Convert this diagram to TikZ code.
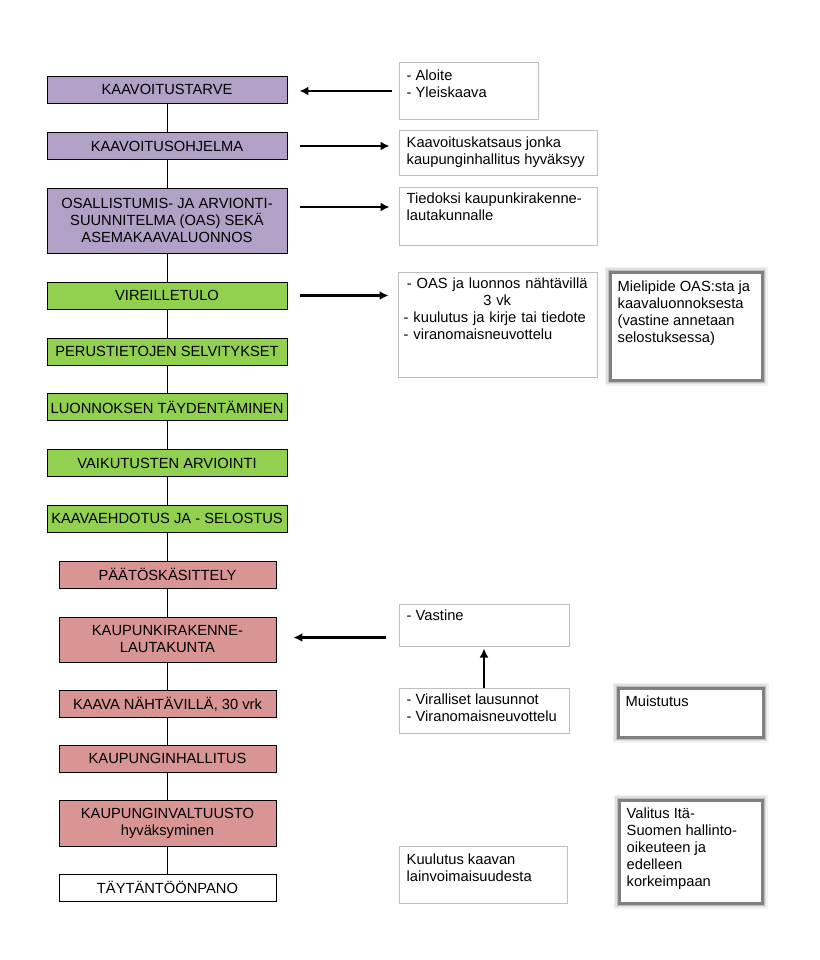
\documentclass[tikz,border=0pt]{standalone}
\usepackage{fontspec}
\setmainfont{Liberation Sans}
\usetikzlibrary{arrows.meta}
\definecolor{purp}{RGB}{178,161,199}
\definecolor{grn}{RGB}{146,208,80}
\definecolor{rd}{RGB}{217,149,148}
\definecolor{lgray}{RGB}{191,191,191}
\begin{document}
\begin{tikzpicture}[x=1pt,y=-1pt,
  font=\fontsize{14.7}{17}\selectfont,
  stage/.style={draw=black, line width=0.9pt, inner sep=0pt, align=center, minimum height=27pt},
  wide/.style={stage, minimum width=240pt},
  narrow/.style={stage, minimum width=217pt},
  infobox/.style={draw=lgray, line width=1pt, fill=white, inner sep=0pt},
  glowbox/.style={fill=white, inner sep=0pt, draw=black!50, line width=3pt,
     preaction={draw=black!5, line width=11pt},
     preaction={draw=black!12, line width=8pt},
     preaction={draw=black!25, line width=5pt}},
  infotext/.style={anchor=north west, inner sep=0pt, align=left},
  conn/.style={draw=black, line width=0.9pt},
  arr/.style={line width=2.2pt, -{Latex[length=9pt,width=9pt]}}
]
\useasboundingbox[fill=white] (0,0) rectangle (819,960);

% main column
\node[wide, fill=purp] (b1) at (167,89.5) {KAAVOITUSTARVE};
\node[wide, fill=purp] (b2) at (167,146) {KAAVOITUSOHJELMA};
\node[wide, fill=purp, minimum height=65pt] (b3) at (167,220.5) {OSALLISTUMIS- JA ARVIONTI-\\SUUNNITELMA (OAS) SEKÄ\\ASEMAKAAVALUONNOS};
\node[wide, fill=grn] (b4) at (167,295.5) {VIREILLETULO};
\node[wide, fill=grn] (b5) at (167,351.5) {PERUSTIETOJEN SELVITYKSET};
\node[wide, fill=grn] (b6) at (167,407) {LUONNOKSEN TÄYDENTÄMINEN};
\node[wide, fill=grn] (b7) at (167,463) {VAIKUTUSTEN ARVIOINTI};
\node[wide, fill=grn] (b8) at (167,518.5) {KAAVAEHDOTUS JA - SELOSTUS};
\node[narrow, fill=rd] (b9) at (167.5,574.5) {PÄÄTÖSKÄSITTELY};
\node[narrow, fill=rd, minimum height=45pt] (b10) at (167.5,639.5) {KAUPUNKIRAKENNE-\\LAUTAKUNTA};
\node[narrow, fill=rd] (b11) at (167.5,704) {KAAVA NÄHTÄVILLÄ, 30 vrk};
\node[narrow, fill=rd] (b12) at (167.5,758.5) {KAUPUNGINHALLITUS};
\node[narrow, fill=rd, minimum height=46pt] (b13) at (167.5,823) {KAUPUNGINVALTUUSTO\\hyväksyminen};
\node[narrow, fill=white] (b14) at (167.5,887.5) {TÄYTÄNTÖÖNPANO};

\foreach \a/\b in {b1/b2,b2/b3,b3/b4,b4/b5,b5/b6,b6/b7,b7/b8,b8/b9,b9/b10,b10/b11,b11/b12,b12/b13,b13/b14}
  \draw[conn] (\a.south) -- (\a.south |- \b.north);

% side boxes
\node[infobox, minimum width=139pt, minimum height=57pt] (r1) at (468.5,91.5) {};
\node[infotext] (t1) at ([shift={(8pt,-7pt)}]r1.north west) {- Aloite\\- Yleiskaava};

\node[infobox, minimum width=198pt, minimum height=45pt] (r2) at (498,153.5) {};
\node[infotext] (t2) at ([shift={(8pt,-6pt)}]r2.north west) {Kaavoituskatsaus jonka\\kaupunginhallitus hyväksyy};

\node[infobox, minimum width=198pt, minimum height=58pt] (r3) at (498,216) {};
\node[infotext] (t3) at ([shift={(8pt,-6pt)}]r3.north west) {Tiedoksi kaupunkirakenne-\\lautakunnalle};

\node[infobox, minimum width=199pt, minimum height=105pt] (r4) at (497.5,324.5) {};
\node[infotext, text width=187pt] (t4) at ([shift={(6pt,-6pt)}]r4.north west)
  {{\centering - OAS ja luonnos nähtävillä\\3 vk\par}- kuulutus ja kirje tai tiedote\\- viranomaisneuvottelu};

\node[glowbox, minimum width=152pt, minimum height=108pt] (r5) at (686,326) {};
\node[infotext] (t5) at ([shift={(9pt,-10pt)}]r5.north west) {Mielipide OAS:sta ja\\kaavaluonnoksesta\\(vastine annetaan\\selostuksessa)};

\node[infobox, minimum width=170pt, minimum height=42pt] (r6) at (484,625) {};
\node[infotext] (t6) at ([shift={(8pt,-6pt)}]r6.north west) {- Vastine};

\node[infobox, minimum width=170pt, minimum height=45pt] (r7) at (484,710.5) {};
\node[infotext] (t7) at ([shift={(8pt,-6pt)}]r7.north west) {- Viralliset lausunnot\\- Viranomaisneuvottelu};

\node[glowbox, minimum width=145pt, minimum height=49pt] (r8) at (690.5,712.5) {};
\node[infotext] (t8) at ([shift={(9pt,-9pt)}]r8.north west) {Muistutus};

\node[infobox, minimum width=168pt, minimum height=57pt] (r9) at (483,874.5) {};
\node[infotext] (t9) at ([shift={(8pt,-8pt)}]r9.north west) {Kuulutus kaavan\\lainvoimaisuudesta};

\node[glowbox, minimum width=143pt, minimum height=103pt] (r10) at (690.5,851.5) {};
\node[infotext] (t10) at ([shift={(9pt,-9pt)}]r10.north west) {Valitus Itä-\\Suomen hallinto-\\oikeuteen ja\\edelleen\\korkeimpaan};

% arrows
\coordinate (a1) at ([yshift=-1.5pt]b1.east);
\draw[arr, shorten <=7pt, shorten >=12pt] (a1 -| r1.west) -- (a1);
\draw[arr, shorten <=13pt, shorten >=9pt] (b2.east) -- (b2.east -| r2.west);
\coordinate (a3) at ([yshift=13.5pt]b3.east);
\draw[arr, shorten <=13pt, shorten >=9pt] (a3) -- (a3 -| r3.west);
\draw[arr, shorten <=13pt, shorten >=9pt] (b4.east) -- (b4.east -| r4.west);
\coordinate (a10) at ([yshift=2pt]b10.east);
\draw[arr, shorten <=13pt, shorten >=17pt] (a10 -| r6.west) -- (a10);
\draw[arr, shorten >=2pt] (r7.north) -- (r6.south);
\end{tikzpicture}
\end{document}
